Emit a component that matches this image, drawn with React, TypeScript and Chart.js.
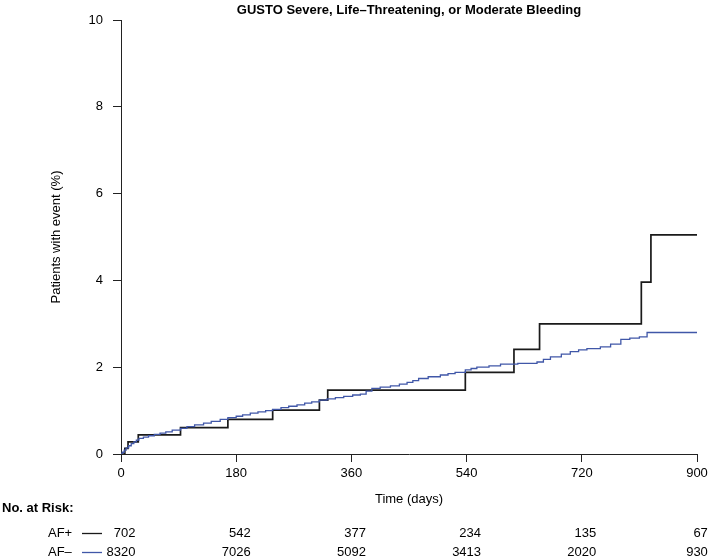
import React, { useEffect, useRef } from "react";
import { Chart, registerables } from "chart.js";

Chart.register(...registerables);

const TITLE = "GUSTO Severe, Life–Threatening, or Moderate Bleeding";
const X_TITLE = "Time (days)";
const Y_TITLE = "Patients with event (%)";

const xTicks = [0, 180, 360, 540, 720, 900];
const yTicks = [0, 2, 4, 6, 8, 10];

const afPlusDays = [0, 6, 11, 27, 93, 167, 237, 310, 323, 538, 614, 654, 813, 828, 900];
const afPlusPct = [0, 0.13, 0.28, 0.44, 0.61, 0.8, 1.01, 1.24, 1.47, 1.88, 2.41, 3.0, 3.96, 5.05, 5.05];

const afMinusDays = [
  0, 2, 5, 8, 12, 16, 20, 24, 28, 35, 43, 52, 61, 70, 80, 93, 103, 115, 129, 141, 155, 167, 180, 190,
  202, 214, 226, 237, 250, 262, 275, 287, 298, 310, 322, 335, 348, 362, 374, 383, 392, 405, 421, 435,
  447, 456, 465, 480, 499, 511, 522, 538, 547, 556, 575, 593, 620, 650, 660, 671, 688, 702, 715, 728,
  749, 765, 781, 795, 810, 822, 900,
];
const afMinusPct = [
  0, 0.04, 0.09, 0.14, 0.19, 0.24, 0.28, 0.32, 0.36, 0.39, 0.42, 0.45, 0.48, 0.51, 0.55, 0.59, 0.63,
  0.67, 0.71, 0.75, 0.8, 0.84, 0.87, 0.9, 0.94, 0.97, 1.0, 1.03, 1.07, 1.1, 1.13, 1.17, 1.2, 1.24,
  1.27, 1.3, 1.33, 1.36, 1.38, 1.45, 1.51, 1.54, 1.57, 1.61, 1.65, 1.69, 1.74, 1.78, 1.82, 1.85, 1.88,
  1.94, 1.97, 2.0, 2.03, 2.07, 2.09, 2.12, 2.18, 2.24, 2.3, 2.36, 2.4, 2.43, 2.47, 2.53, 2.64, 2.67,
  2.7, 2.8, 2.8,
];

const riskGroups = ["AF+", "AF–"];
const riskPlus = [702, 542, 377, 234, 135, 67];
const riskMinus = [8320, 7026, 5092, 3413, 2020, 930];

const FONT = "'Liberation Sans', Arial, Helvetica, sans-serif";
const BLACK = "#1a1a1a";
const BLUE = "#4057a8";

const overlay = {
  id: "overlay",
  afterDraw(chart: any) {
    const { ctx, chartArea } = chart;
    const xs = chart.scales.x;
    ctx.save();
    ctx.fillStyle = "#000";
    ctx.textBaseline = "middle";
    // title
    ctx.font = `bold 13px ${FONT}`;
    ctx.textAlign = "center";
    ctx.fillText(TITLE, (chartArea.left + chartArea.right) / 2, 10);
    // risk table header
    ctx.textAlign = "left";
    ctx.fillText("No. at Risk:", 2, 508);
    ctx.font = `13px ${FONT}`;
    const rowsY = [533, 552];
    const colors = [BLACK, BLUE];
    const rows = [riskPlus, riskMinus];
    rowsY.forEach((y, r) => {
      ctx.textAlign = "left";
      ctx.fillStyle = "#000";
      ctx.fillText(riskGroups[r], 48, y);
      ctx.strokeStyle = colors[r];
      ctx.lineWidth = 1.3;
      ctx.beginPath();
      ctx.moveTo(82, Math.round(y) + 0.5);
      ctx.lineTo(102, Math.round(y) + 0.5);
      ctx.stroke();
    });
    ctx.fillStyle = "#000";
    ctx.textAlign = "right";
    xTicks.forEach((t, i) => {
      const px = xs.getPixelForValue(t);
      const w = Math.max(
        ctx.measureText(String(riskPlus[i])).width,
        ctx.measureText(String(riskMinus[i])).width
      );
      rows.forEach((row, r) => {
        ctx.fillText(String(row[i]), px + w / 2, rowsY[r]);
      });
    });
    ctx.restore();
  },
};

export default function App() {
  const ref = useRef<HTMLCanvasElement>(null);
  useEffect(() => {
    document.body.style.margin = "0";
    const canvas = ref.current;
    if (!canvas) return;
    const axisCommon = {
      grid: {
        display: true,
        drawOnChartArea: false,
        drawTicks: true,
        tickLength: 8,
        color: "#222",
        lineWidth: 1,
      },
      border: { display: true, color: "#222", width: 1 },
    };
    const chart = new Chart(canvas, {
      type: "line",
      data: {
        datasets: [
          {
            label: "AF–",
            data: afMinusDays.map((d, i) => ({ x: d, y: afMinusPct[i] })),
            borderColor: BLUE,
            borderWidth: 1.3,
            stepped: "before",
            pointRadius: 0,
            fill: false,
          },
          {
            label: "AF+",
            data: afPlusDays.map((d, i) => ({ x: d, y: afPlusPct[i] })),
            borderColor: BLACK,
            borderWidth: 1.7,
            stepped: "before",
            pointRadius: 0,
            fill: false,
          },
        ],
      },
      options: {
        responsive: false,
        animation: false,
        devicePixelRatio: 1,
        layout: { padding: { top: 20, right: 12, left: 0, bottom: 0 } },
        plugins: {
          legend: { display: false },
          tooltip: { enabled: false },
          title: { display: false },
        },
        scales: {
          x: {
            type: "linear",
            min: 0,
            max: 900,
            ...axisCommon,
            afterBuildTicks: (s: any) => {
              s.ticks = xTicks.map((v) => ({ value: v }));
            },
            afterFit: (s: any) => {
              s.height = 102;
              s.paddingLeft = 0;
              s.paddingRight = 0;
            },
            ticks: {
              font: { family: FONT, size: 13 },
              color: "#000",
              padding: 4,
              maxRotation: 0,
              autoSkip: false,
            },
            title: {
              display: true,
              text: X_TITLE,
              color: "#000",
              font: { family: FONT, size: 13 },
              padding: { top: 0, bottom: 49 },
            },
          },
          y: {
            type: "linear",
            min: 0,
            max: 10,
            ...axisCommon,
            afterBuildTicks: (s: any) => {
              s.ticks = yTicks.map((v) => ({ value: v }));
            },
            afterFit: (s: any) => {
              s.width = 121;
              s.paddingTop = 0;
              s.paddingBottom = 0;
            },
            ticks: {
              font: { family: FONT, size: 13 },
              color: "#000",
              padding: 10,
              autoSkip: false,
            },
            title: {
              display: true,
              text: Y_TITLE,
              color: "#000",
              font: { family: FONT, size: 13 },
              padding: { top: 49, bottom: 0 },
            },
          },
        },
      } as any,
      plugins: [overlay],
    });
    return () => chart.destroy();
  }, []);
  return (
    <div style={{ width: 709, height: 556 }}>
      <canvas ref={ref} width={709} height={556} style={{ display: "block" }} />
    </div>
  );
}
